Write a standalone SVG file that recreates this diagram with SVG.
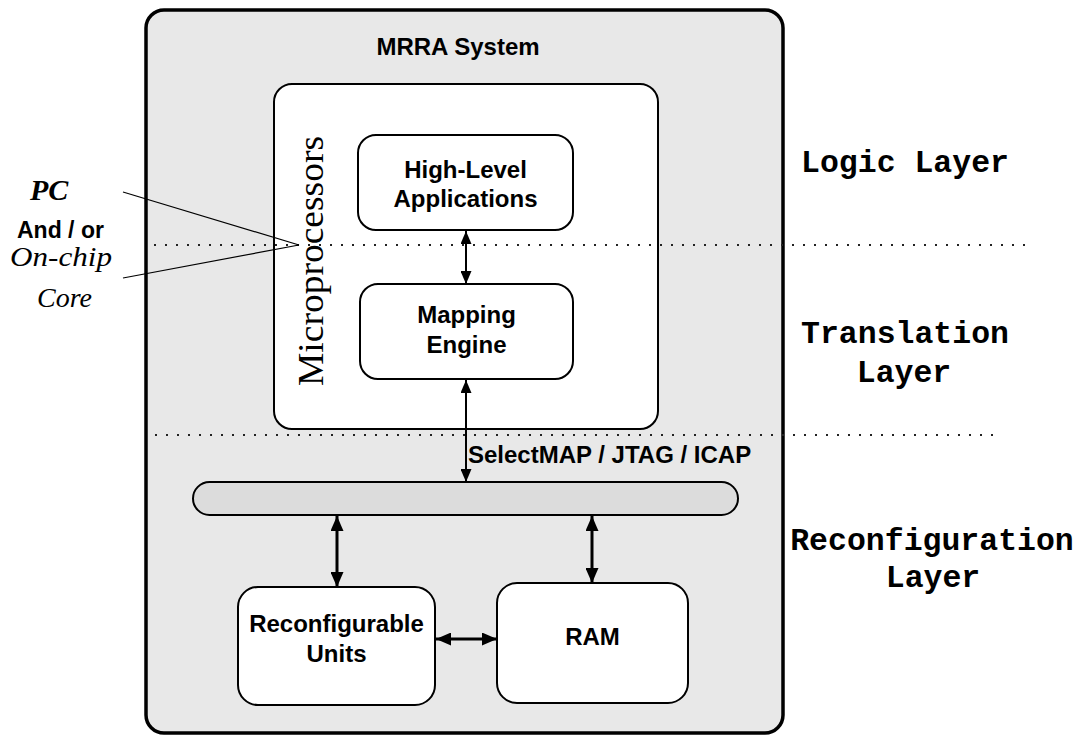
<svg xmlns="http://www.w3.org/2000/svg" width="1083" height="737" viewBox="0 0 1083 737">
<style>
.box{fill:#ffffff;stroke:#000;stroke-width:2}
.lbl{font-family:"Liberation Sans",Arial,sans-serif;font-weight:bold;font-size:24px;fill:#000;text-anchor:middle}
.layer{font-family:"Liberation Mono","Courier New",monospace;font-weight:bold;font-size:31.5px;fill:#000;text-anchor:middle}
.serif{font-family:"Liberation Serif","Times New Roman",serif;fill:#000}
.dots{stroke:#222;stroke-width:2;stroke-dasharray:2 9;fill:none}
.conn{stroke:#000;stroke-width:2;fill:none}
.conn2{stroke:#000;stroke-width:3;fill:none}
.thin{stroke:#000;stroke-width:1.2;fill:none}
</style>
<defs>
<marker id="ah" viewBox="0 0 13 11" refX="13" refY="5.5" markerWidth="13" markerHeight="11" markerUnits="userSpaceOnUse" orient="auto-start-reverse">
<path d="M0,0 L13,5.5 L0,11 z" fill="#000"/>
</marker>
<marker id="ah2" viewBox="0 0 15 13" refX="15" refY="6.5" markerWidth="15" markerHeight="13" markerUnits="userSpaceOnUse" orient="auto-start-reverse">
<path d="M0,0 L15,6.5 L0,13 z" fill="#000"/>
</marker>
</defs>

<g id="mrra-system">
<rect x="146" y="10" width="637" height="723" rx="18" fill="#e8e8e8" stroke="#000" stroke-width="3.5"/>
<text class="lbl" x="458" y="55">MRRA System</text>
</g>

<g id="microprocessors">
<rect class="box" x="274" y="84" width="384" height="345" rx="18"/>
<text class="serif" font-size="35" text-anchor="middle" textLength="250" lengthAdjust="spacingAndGlyphs" transform="translate(323,261) rotate(-90)">Microprocessors</text>
</g>

<g id="high-level-applications">
<rect class="box" x="358" y="135" width="215" height="95" rx="18"/>
<text class="lbl" x="465.5" y="178">High-Level</text>
<text class="lbl" x="465.5" y="207">Applications</text>
</g>

<g id="mapping-engine">
<rect class="box" x="360" y="284" width="213" height="95" rx="18"/>
<text class="lbl" x="466.5" y="323">Mapping</text>
<text class="lbl" x="466.5" y="353">Engine</text>
</g>

<g id="bus">
<rect x="193" y="482" width="545" height="33" rx="16.5" fill="#dcdcdc" stroke="#000" stroke-width="2"/>
</g>

<g id="reconfigurable-units">
<rect class="box" x="238" y="587" width="197" height="118" rx="20"/>
<text class="lbl" x="336.5" y="632">Reconfigurable</text>
<text class="lbl" x="336.5" y="662">Units</text>
</g>

<g id="ram">
<rect class="box" x="497" y="583" width="191" height="120" rx="20"/>
<text class="lbl" x="592.5" y="645">RAM</text>
</g>

<g id="layer-dividers">
<line class="dots" x1="154" y1="245" x2="1034" y2="245"/>
<line class="dots" x1="155" y1="435" x2="1002" y2="435"/>
</g>

<g id="layer-labels">
<text class="layer" x="905" y="172">Logic Layer</text>
<text class="layer" x="905" y="343">Translation</text>
<text class="layer" x="904" y="382">Layer</text>
<text class="layer" x="932" y="550">Reconfiguration</text>
<text class="layer" x="933" y="587">Layer</text>
</g>

<g id="host-label">
<text class="serif" x="30" y="200" font-size="30" font-weight="bold" font-style="italic">PC</text>
<text x="17" y="238" font-family="'Liberation Sans',Arial,sans-serif" font-weight="bold" font-size="23">And / or</text>
<text class="serif" x="10" y="266" font-size="28" font-style="italic" textLength="102" lengthAdjust="spacingAndGlyphs">On-chip</text>
<text class="serif" x="37" y="307" font-size="28" font-style="italic">Core</text>
</g>

<g id="connectors">
<line class="thin" x1="123" y1="192" x2="299" y2="245"/>
<line class="thin" x1="123" y1="278" x2="299" y2="245"/>
<line class="conn" x1="466" y1="231" x2="466" y2="284" marker-start="url(#ah)" marker-end="url(#ah)"/>
<line class="conn" x1="466" y1="380" x2="466" y2="482" marker-start="url(#ah)" marker-end="url(#ah)"/>
<text class="lbl" x="468" y="463" style="text-anchor:start">SelectMAP / JTAG / ICAP</text>
<line class="conn2" x1="337" y1="516" x2="337" y2="587" marker-start="url(#ah2)" marker-end="url(#ah2)"/>
<line class="conn2" x1="592" y1="516" x2="592" y2="583" marker-start="url(#ah2)" marker-end="url(#ah2)"/>
<line class="conn2" x1="436" y1="639" x2="497" y2="639" marker-start="url(#ah2)" marker-end="url(#ah2)"/>
</g>
</svg>
